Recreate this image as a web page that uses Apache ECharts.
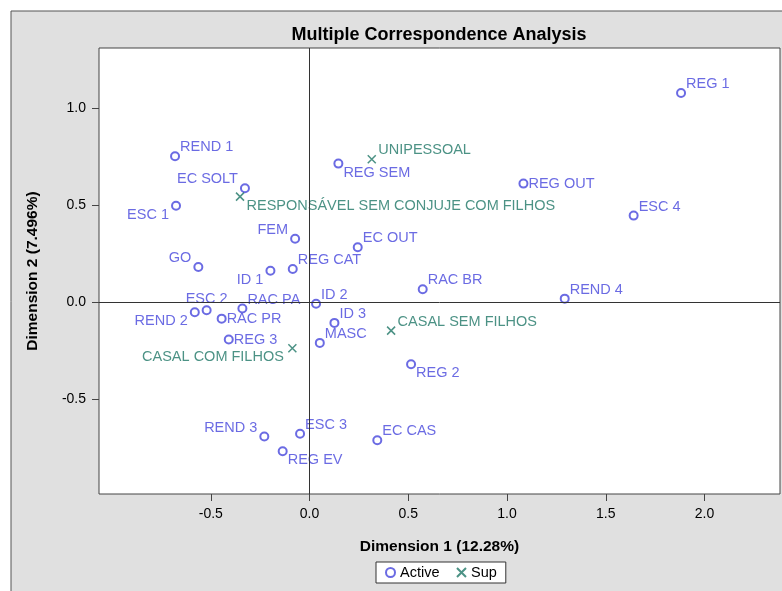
<!DOCTYPE html>
<html lang="en">
    <head>
        <title>Multiple Correspondence Analysis</title>
        <meta charset="utf-8">
        <script src='https://cdn.jsdelivr.net/npm/echarts@6/dist/echarts.min.js'></script>
    </head>

    <style>
        html, body, #main {
            width: 100%;
            height: 100%;
            margin: 0;
            background: #fff;
        }
    </style>

    <body>
        <div id='main'></div>

        <script>
            // active categories
            const activeNames = ['REG 1', 'REND 1', 'REG SEM', 'EC SOLT', 'ESC 1', 'FEM', 'EC OUT', 'GO',
                'ID 1', 'REG CAT', 'ID 2', 'ESC 2', 'REND 2', 'RAC PA', 'RAC PR', 'REG 3', 'ID 3', 'MASC',
                'REG 2', 'RAC BR', 'REND 4', 'REG OUT', 'ESC 4', 'REND 3', 'ESC 3', 'REG EV', 'EC CAS'];
            const activeDim1 = [1.881, -0.681, 0.146, -0.327, -0.676, -0.073, 0.244, -0.563,
                -0.198, -0.085, 0.033, -0.521, -0.581, -0.340, -0.445, -0.409, 0.126, 0.052,
                0.514, 0.573, 1.292, 1.083, 1.641, -0.229, -0.048, -0.136, 0.343];
            const activeDim2 = [1.077, 0.751, 0.713, 0.586, 0.496, 0.326, 0.282, 0.180,
                0.161, 0.170, -0.009, -0.043, -0.053, -0.034, -0.086, -0.194, -0.108, -0.211,
                -0.321, 0.065, 0.017, 0.610, 0.445, -0.694, -0.679, -0.770, -0.713];

            // supplementary categories
            const supNames = ['UNIPESSOAL', 'RESPONSÁVEL SEM CONJUJE COM FILHOS', 'CASAL COM FILHOS', 'CASAL SEM FILHOS'];
            const supDim1 = [0.315, -0.352, -0.087, 0.413];
            const supDim2 = [0.736, 0.543, -0.239, -0.148];

            const xTicks = [-0.5, 0.0, 0.5, 1.0, 1.5, 2.0];
            const yTicks = [-0.5, 0.0, 0.5, 1.0];

            // where each label sits round its marker
            const activeLabelAt = ['tr', 'tr', 'br', 'tl', 'bl', 'tl', 'tr', 'tl',
                'bl', 'tr', 'tr', 't', 'bl', 'tr', 'r', 'r', 'tr', 'tr',
                'br', 'tr', 'tr', 'r', 'tr', 'tl', 'tr', 'br', 'tr'];
            const supLabelAt = ['tr', 'br', 'bl', 'tr'];

            const blue = '#4646dc';
            const green = '#1f7767';
            const font = 'Liberation Sans, Arial, sans-serif';

            const labelFor = (at, color) => {
                const base = { show: true, formatter: '{b}', color: color, fontFamily: font, fontSize: 14.5, distance: 0 };
                switch (at) {
                    case 'tr': return Object.assign(base, { position: 'right', offset: [0, -9] });
                    case 'br': return Object.assign(base, { position: 'right', offset: [0, 9] });
                    case 'tl': return Object.assign(base, { position: 'left', distance: 2, offset: [0, -9] });
                    case 'bl': return Object.assign(base, { position: 'left', distance: 2, offset: [0, 9] });
                    case 'l': return Object.assign(base, { position: 'left', distance: 2 });
                    case 't': return Object.assign(base, { position: 'top', distance: -1 });
                    default: return Object.assign(base, { position: 'right' });
                }
            };

            const activeData = activeNames.map((n, i) => ({
                name: n,
                value: [activeDim1[i], activeDim2[i]],
                label: labelFor(activeLabelAt[i], blue)
            }));
            const supData = supNames.map((n, i) => ({
                name: n,
                value: [supDim1[i], supDim2[i]],
                label: labelFor(supLabelAt[i], green)
            }));

            const chart = echarts.init(document.getElementById('main'));

            const option = {
                animation: false,
                graphic: [{
                    type: 'rect',
                    z: -10,
                    shape: { x: 11, y: 11, width: 800, height: 600 },
                    style: { fill: '#e0e0e0', stroke: '#555', lineWidth: 1 }
                }],
                title: {
                    text: 'Multiple Correspondence Analysis',
                    left: 434,
                    top: 21,
                    textAlign: 'center',
                    textStyle: { fontFamily: font, fontWeight: 'bold', fontSize: 18, color: '#000' }
                },
                grid: {
                    left: 99, right: 2, top: 48, bottom: 97,
                    show: true,
                    backgroundColor: '#fff',
                    borderColor: '#444',
                    borderWidth: 1
                },
                xAxis: {
                    type: 'value',
                    min: -1.066,
                    max: 2.382,
                    name: 'Dimension 1 (12.28%)',
                    nameLocation: 'middle',
                    nameGap: 45,
                    nameTextStyle: { fontFamily: font, fontWeight: 'bold', fontSize: 15.5, color: '#000' },
                    splitLine: { show: false },
                    axisLine: { show: false, onZero: false },
                    axisTick: { show: true, length: 7, lineStyle: { color: '#444' }, customValues: xTicks },
                    axisLabel: {
                        customValues: xTicks,
                        formatter: v => v.toFixed(1),
                        fontFamily: font, fontSize: 14, color: '#000', margin: 13
                    }
                },
                yAxis: {
                    type: 'value',
                    min: -0.99,
                    max: 1.309,
                    name: 'Dimension 2 (7.496%)',
                    nameLocation: 'middle',
                    nameGap: 58,
                    nameTextStyle: { fontFamily: font, fontWeight: 'bold', fontSize: 15.5, color: '#000' },
                    splitLine: { show: false },
                    axisLine: { show: false, onZero: false },
                    axisTick: { show: true, length: 7, lineStyle: { color: '#444' }, customValues: yTicks },
                    axisLabel: {
                        customValues: yTicks,
                        formatter: v => v.toFixed(1),
                        fontFamily: font, fontSize: 14, color: '#000', margin: 13
                    }
                },
                legend: {
                    top: 562,
                    left: 376,
                    orient: 'horizontal',
                    backgroundColor: '#fff',
                    borderColor: '#333',
                    borderWidth: 1,
                    padding: [3, 9],
                    itemGap: 15,
                    itemWidth: 9,
                    itemHeight: 9,
                    textStyle: { fontFamily: font, fontSize: 14.5, color: '#000' },
                    data: ['Active', 'Sup']
                },
                series: [
                    {
                        name: 'Active',
                        type: 'scatter',
                        symbol: 'emptyCircle',
                        symbolSize: 8,
                        itemStyle: { color: blue, borderWidth: 1.5 },
                        data: activeData,
                        markLine: {
                            silent: true,
                            symbol: 'none',
                            label: { show: false },
                            lineStyle: { color: '#333', type: 'solid', width: 1 },
                            data: [{ xAxis: 0 }, { yAxis: 0 }]
                        }
                    },
                    {
                        name: 'Sup',
                        type: 'scatter',
                        symbol: 'path://M0,0L10,10M10,0L0,10',
                        symbolSize: 8,
                        itemStyle: { color: 'none', borderColor: green, borderWidth: 1.5 },
                        data: supData
                    }
                ]
            };

            chart.setOption(option);

            window.onresize = function () {
                chart.resize();
            }
        </script>
    </body>
</html>
